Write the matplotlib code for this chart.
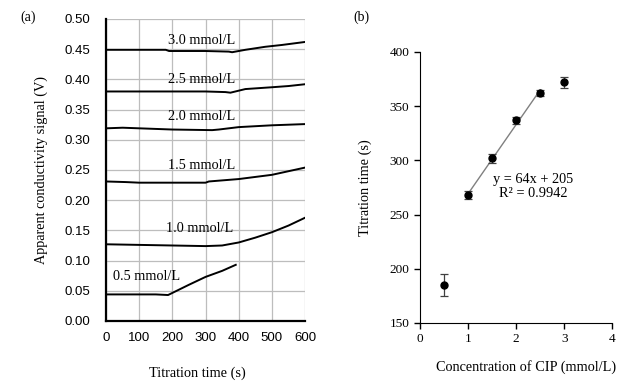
import numpy as np
import matplotlib.pyplot as plt

# ==================================================
# Data: panel (a) conductivity curves
# ==================================================
t_30 = [0, 100, 180, 190, 300, 370, 380, 420, 480, 530, 600]
v_30 = [0.449, 0.449, 0.449, 0.447, 0.447, 0.446, 0.445, 0.449, 0.454, 0.457, 0.462]
t_25 = [0, 100, 200, 300, 360, 375, 420, 500, 550, 600]
v_25 = [0.380, 0.380, 0.380, 0.380, 0.379, 0.378, 0.384, 0.387, 0.389, 0.392]
t_20 = [0, 50, 200, 320, 340, 400, 500, 600]
v_20 = [0.319, 0.320, 0.317, 0.316, 0.317, 0.321, 0.324, 0.326]
t_15 = [0, 60, 100, 200, 300, 310, 400, 500, 600]
v_15 = [0.231, 0.230, 0.229, 0.229, 0.229, 0.231, 0.235, 0.242, 0.254]
t_10 = [0, 100, 200, 300, 350, 400, 450, 500, 550, 600]
v_10 = [0.127, 0.126, 0.125, 0.124, 0.125, 0.130, 0.138, 0.147, 0.158, 0.171]
t_05 = [0, 100, 150, 187, 250, 300, 350, 391]
v_05 = [0.044, 0.044, 0.044, 0.043, 0.060, 0.073, 0.083, 0.093]

curves = [(t_30, v_30), (t_25, v_25), (t_20, v_20),
          (t_15, v_15), (t_10, v_10), (t_05, v_05)]
curve_labels = ['3.0 mmol/L', '2.5 mmol/L', '2.0 mmol/L',
                '1.5 mmol/L', '1.0 mmol/L', '0.5 mmol/L']
label_x = [288, 288, 288, 288, 283, 122]
label_y = [0.465, 0.399, 0.338, 0.258, 0.153, 0.073]

# ==================================================
# Data: panel (b) calibration
# ==================================================
conc = [0.5, 1.0, 1.5, 2.0, 2.5, 3.0]
titr_time = [185, 268, 302, 337, 362, 372]
titr_err = [10, 4, 4, 3, 3, 5]
fit_x = [1.0, 2.5]
slope, intercept = 64, 205

serif = 'Liberation Serif'
sans = 'Liberation Sans'

fig = plt.figure(figsize=(6.36, 3.83), dpi=100)

# ---------------- panel (a) ----------------
ax1 = fig.add_axes([0.1667, 0.1619, 0.313, 0.7885])
for (t, v) in curves:
    ax1.plot(t, v, color='black', lw=1.4, zorder=3)
for lab, x, y in zip(curve_labels, label_x, label_y):
    ax1.text(x, y, lab, ha='center', va='center', fontsize=10.3,
             family=serif, zorder=4)
ax1.set_xlim(0, 600)
ax1.set_ylim(0, 0.5)
ax1.set_xticks(np.arange(0, 601, 100))
ax1.set_yticks(np.arange(0, 0.501, 0.05))
ax1.set_yticklabels([f'{v:.2f}' for v in np.arange(0, 0.501, 0.05)])
ax1.grid(True, color='#bdbdbd', lw=0.9)
ax1.set_axisbelow(True)
ax1.tick_params(axis='y', length=0, labelsize=9.5, pad=11)
ax1.tick_params(axis='x', length=0, labelsize=9.5, pad=8)
for lab in ax1.get_xticklabels() + ax1.get_yticklabels():
    lab.set_family(sans)
for s in ['top', 'right']:
    ax1.spines[s].set_visible(False)
for s in ['left', 'bottom']:
    ax1.spines[s].set_linewidth(1.6)
ax1.set_xlabel('Titration time (s)', family=serif, fontsize=10.3)
ax1.xaxis.set_label_coords(0.46, -0.15)
ax1.set_ylabel('Apparent conductivity signal (V)', family=serif, fontsize=10.3)
ax1.yaxis.set_label_coords(-0.29, 0.5)
fig.text(0.032, 0.955, '(a)', family=serif, fontsize=10, va='center')

# ---------------- panel (b) ----------------
ax2 = fig.add_axes([0.660, 0.1567, 0.303, 0.7076])
fx = np.array(fit_x)
ax2.plot(fx, slope * fx + intercept, color='#808080', lw=1.0, zorder=2)
ax2.errorbar(conc, titr_time, yerr=titr_err, fmt='o', color='black',
             ms=5, ecolor='#404040', elinewidth=0.9, capsize=3, capthick=0.9,
             zorder=3)
ax2.text(2.36, 282, f'y = {slope}x + {intercept}', ha='center', va='center',
         family=serif, fontsize=10.3)
ax2.text(2.36, 269, 'R² = 0.9942', ha='center', va='center',
         family=serif, fontsize=10.3)
ax2.set_xlim(0, 4)
ax2.set_ylim(150, 400)
ax2.set_xticks([0, 1, 2, 3, 4])
ax2.set_yticks([150, 200, 250, 300, 350, 400])
ax2.tick_params(direction='out', length=4, width=1, labelsize=9.5)
for lab in ax2.get_xticklabels() + ax2.get_yticklabels():
    lab.set_family(serif)
for s in ['top', 'right']:
    ax2.spines[s].set_visible(False)
ax2.set_xlabel('Concentration of CIP (mmol/L)', family=serif, fontsize=10.3)
ax2.xaxis.set_label_coords(0.55, -0.135)
ax2.set_ylabel('Titration time (s)', family=serif, fontsize=10.3)
ax2.yaxis.set_label_coords(-0.25, 0.5)
fig.text(0.555, 0.955, '(b)', family=serif, fontsize=10, va='center')

fig.savefig('out.png', dpi=100, facecolor='white')
